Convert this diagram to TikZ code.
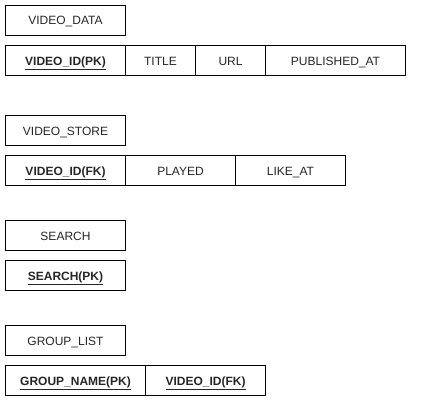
\documentclass[tikz,border=0pt]{standalone}
\usepackage{fontspec}
\setmainfont{Liberation Sans}
\begin{document}
\begin{tikzpicture}[x=1pt,y=-1pt,
  cell/.style={draw=black,line width=1pt,inner sep=0pt,minimum height=30pt,anchor=north west,text height=9pt,text depth=0pt,font=\fontsize{12}{14}\selectfont,text=black!85},
  key/.style={cell,font=\fontsize{12}{14}\selectfont\bfseries}]
\useasboundingbox (0,0) rectangle (422,404);
% VIDEO_DATA
\node[cell,minimum width=120pt] (vd) at (5,5) {VIDEO\_DATA};
\node[key,minimum width=120pt] (vdid) at (5,45) {\underline{VIDEO\_ID(PK)}};
\node[cell,minimum width=70pt] (vdt) at (125,45) {TITLE};
\node[cell,minimum width=70pt] (vdu) at (195,45) {URL};
\node[cell,minimum width=140pt] (vdp) at (265,45) {PUBLISHED\_AT};
% VIDEO_STORE
\node[cell,minimum width=120pt] (vs) at (5,115) {VIDEO\_STORE};
\node[key,minimum width=120pt] (vsid) at (5,155) {\underline{VIDEO\_ID(FK)}};
\node[cell,minimum width=110pt] (vsp) at (125,155) {PLAYED};
\node[cell,minimum width=110pt] (vsl) at (235,155) {LIKE\_AT};
% SEARCH
\node[cell,minimum width=120pt] (se) at (5,220) {SEARCH};
\node[key,minimum width=120pt] (sepk) at (5,260) {\underline{SEARCH(PK)}};
% GROUP_LIST
\node[cell,minimum width=120pt] (gl) at (5,325) {GROUP\_LIST};
\node[key,minimum width=140pt] (glpk) at (5,365) {\underline{GROUP\_NAME(PK)}};
\node[key,minimum width=120pt] (glfk) at (145,365) {\underline{VIDEO\_ID(FK)}};
\end{tikzpicture}
\end{document}
